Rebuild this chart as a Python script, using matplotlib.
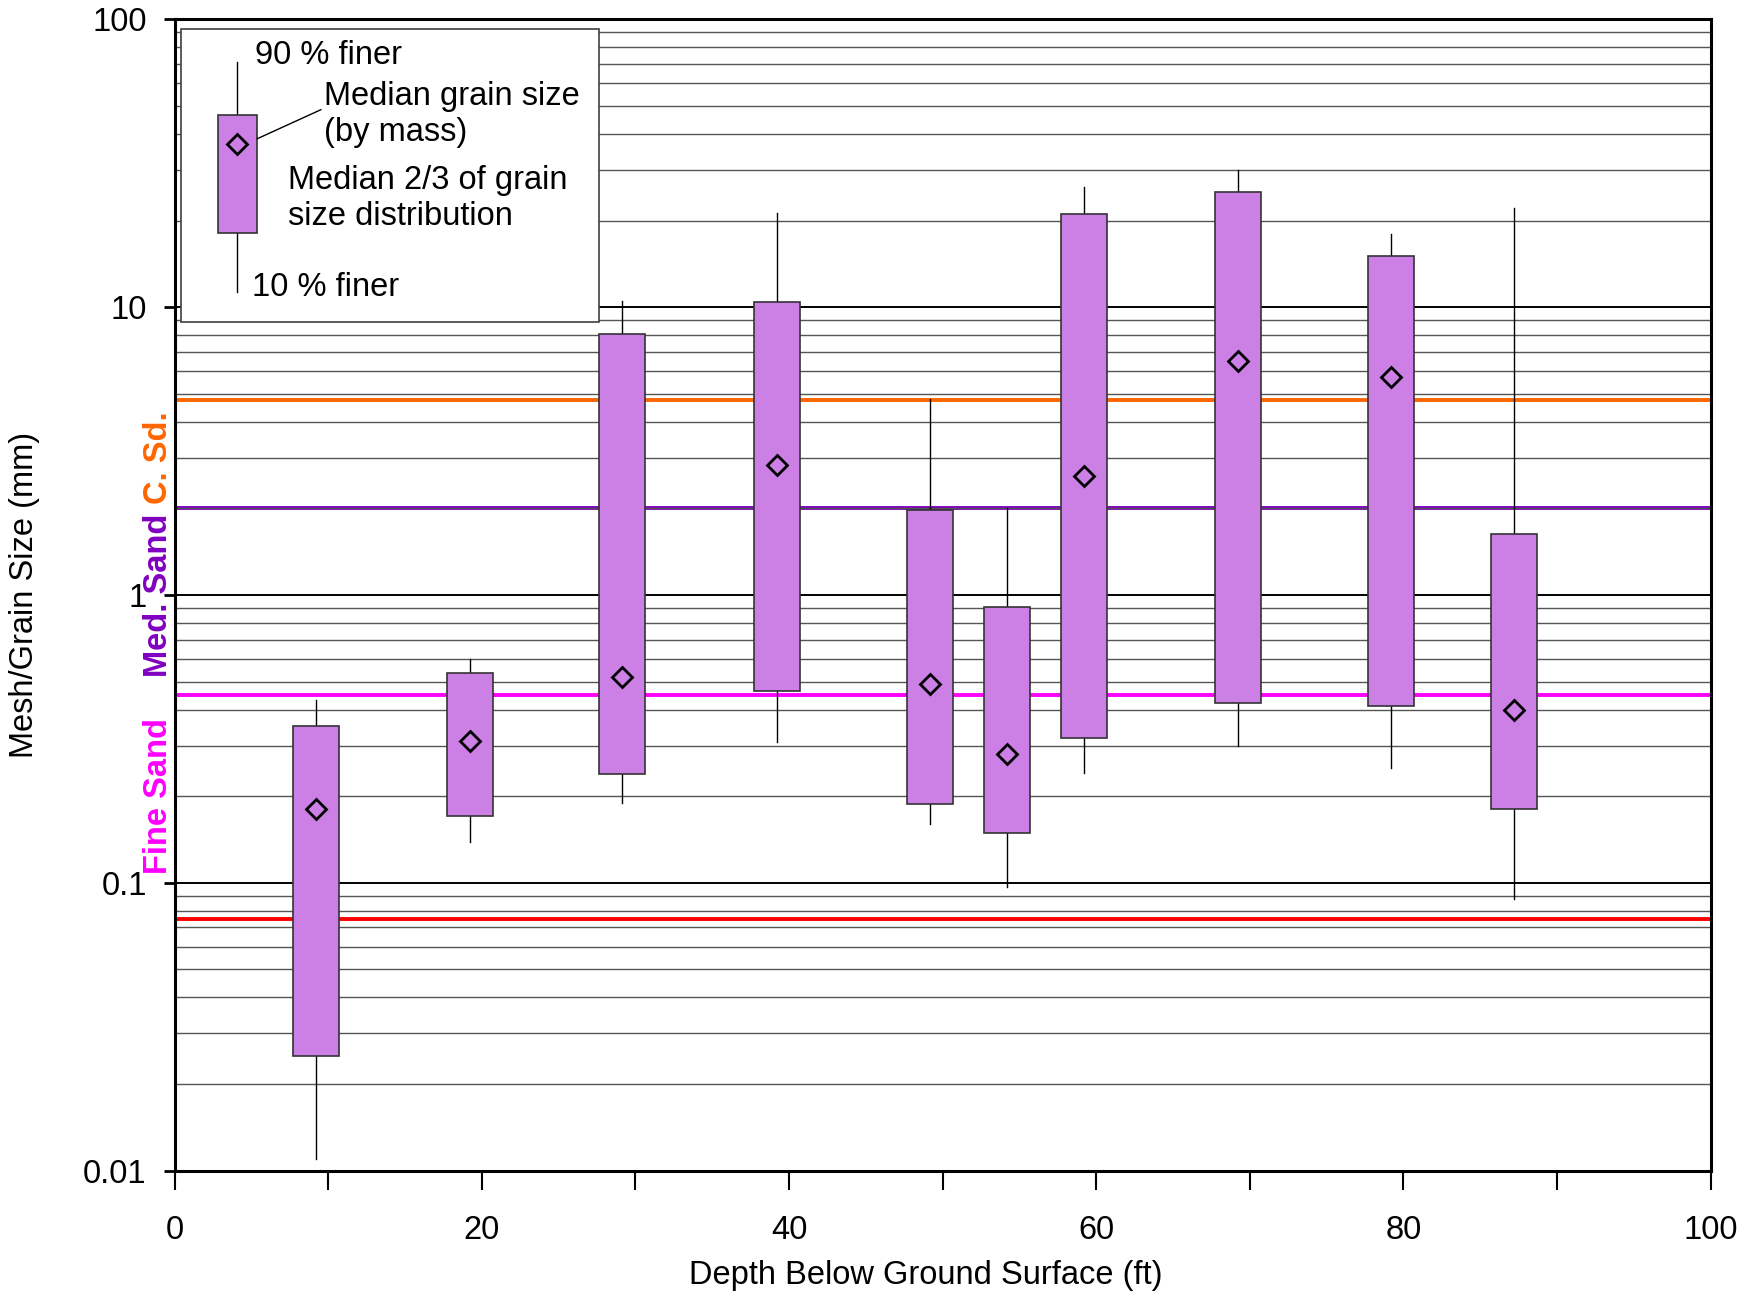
import matplotlib
matplotlib.use("Agg")
import matplotlib.pyplot as plt
import matplotlib.patches as patches
import matplotlib.transforms as mtransforms
from matplotlib.ticker import LogLocator, NullFormatter, FixedLocator

plt.rcParams["font.family"] = ["Liberation Sans", "DejaVu Sans"]

# Grain size data
depth = [9.2, 19.2, 29.1, 39.2, 49.2, 54.2, 59.2, 69.2, 79.2, 87.2]
d90 = [0.43, 0.60, 10.5, 21.2, 4.8, 2.0, 26.2, 30.0, 18.0, 22.1]
box_top = [0.35, 0.535, 8.1, 10.4, 1.97, 0.91, 21.0, 25.1, 15.1, 1.63]
d50 = [0.18, 0.31, 0.52, 2.82, 0.49, 0.28, 2.6, 6.5, 5.7, 0.40]
box_bot = [0.025, 0.171, 0.238, 0.464, 0.188, 0.149, 0.319, 0.421, 0.413, 0.180]
d10 = [0.011, 0.139, 0.19, 0.308, 0.16, 0.097, 0.24, 0.30, 0.251, 0.088]

# sieve boundaries (mm) and colours
class_lines = [4.75, 2.0, 0.45, 0.075]
class_colors = ["#FF6600", "#8000C0", "#FF00FF", "#FF0000"]

class_labels = ["C. Sd.", "Med. Sand", "Fine Sand"]
class_label_y = [3.0, 1.0, 0.2]
class_label_colors = ["#FF6600", "#8000C0", "#FF00FF"]

box_width = 3.0
box_color = "#CC80E6"
fs = 23.5

fig = plt.figure(figsize=(17.5, 12.97), dpi=100)
ax = fig.add_axes([0.0998, 0.0974, 0.8777, 0.8877])

ax.set_yscale("log")
ax.set_ylim(0.01, 100)
ax.set_xlim(0, 100)

# grid
ax.yaxis.set_minor_locator(LogLocator(base=10, subs=range(2, 10)))
ax.yaxis.set_minor_formatter(NullFormatter())
ax.grid(True, which="major", axis="y", color="black", lw=1.4, zorder=0)
ax.grid(True, which="minor", axis="y", color="#555555", lw=1.0, zorder=0)

# sieve lines
for val, col in zip(class_lines, class_colors):
    ax.axhline(val, color=col, lw=2.8, zorder=1)

# boxes
for x, hi, top, med, bot, lo in zip(depth, d90, box_top, d50, box_bot, d10):
    ax.plot([x, x], [top, hi], color="black", lw=1.0, zorder=2)
    ax.plot([x, x], [lo, bot], color="black", lw=1.0, zorder=2)
    ax.add_patch(patches.Rectangle((x - box_width / 2, bot), box_width, top - bot,
                                   facecolor=box_color, edgecolor="#333333", lw=1.2, zorder=3))
    ax.plot(x, med, marker="D", ms=10, mfc="none", mec="black", mew=2, zorder=4)

# axes styling
for sp in ax.spines.values():
    sp.set_linewidth(2.2)
    sp.set_zorder(6)
ax.set_xticks(range(0, 101, 10))
ax.set_xticklabels([str(v) if v % 20 == 0 else "" for v in range(0, 101, 10)])
ax.yaxis.set_major_locator(FixedLocator([0.01, 0.1, 1, 10, 100]))
ax.set_yticklabels(["0.01", "0.1", "1", "10", "100"])
ax.tick_params(axis="x", which="major", direction="out", length=14, width=1.5, labelsize=fs, pad=18)
ax.tick_params(axis="y", which="major", direction="out", length=8, width=2, labelsize=fs, pad=12)
ax.tick_params(axis="y", which="minor", length=0)
ax.set_xlabel("Depth Below Ground Surface (ft)", fontsize=fs)
ax.set_ylabel("Mesh/Grain Size (mm)", fontsize=fs)
ax.xaxis.set_label_coords(0.489, -0.0912)
ax.yaxis.set_label_coords(-0.0975, 0.5)
ax.xaxis.label.set_va("center")
ax.yaxis.label.set_va("center")

# class labels at the left of the axis
trans = mtransforms.blended_transform_factory(ax.transAxes, ax.transData)
for lab, yv, col in zip(class_labels, class_label_y, class_label_colors):
    ax.text(-0.0105, yv, lab, transform=trans, rotation=90, ha="center", va="center",
            fontsize=fs, fontweight="bold", color=col, clip_on=False)

# legend box
ta = ax.transAxes
ax.add_patch(patches.Rectangle((0.0044, 0.737), 0.272, 0.255, transform=ta,
                               facecolor="white", edgecolor="#404040", lw=1.2, zorder=7))
ax.plot([0.0407, 0.0407], [0.763, 0.963], transform=ta, color="black", lw=1.0, zorder=8)
ax.add_patch(patches.Rectangle((0.0283, 0.814), 0.0255, 0.1027, transform=ta,
                               facecolor=box_color, edgecolor="#333333", lw=1.2, zorder=9))
ax.plot(0.0407, 0.8915, transform=ta, marker="D", ms=10, mfc="none", mec="black", mew=2, zorder=10)
ax.plot([0.0538, 0.0952], [0.8963, 0.9215], transform=ta, color="black", lw=1.0, zorder=10)
ax.text(0.0523, 0.969, "90 % finer", transform=ta, ha="left", va="center", fontsize=fs, zorder=10)
ax.text(0.0974, 0.917, "Median grain size\n(by mass)", transform=ta, ha="left", va="center",
        fontsize=fs, linespacing=1.2, zorder=10)
ax.text(0.0741, 0.8445, "Median 2/3 of grain\nsize distribution", transform=ta, ha="left",
        va="center", fontsize=fs, linespacing=1.2, zorder=10)
ax.text(0.0501, 0.7674, "10 % finer", transform=ta, ha="left", va="center", fontsize=fs, zorder=10)

fig.savefig("out.png", dpi=100)
